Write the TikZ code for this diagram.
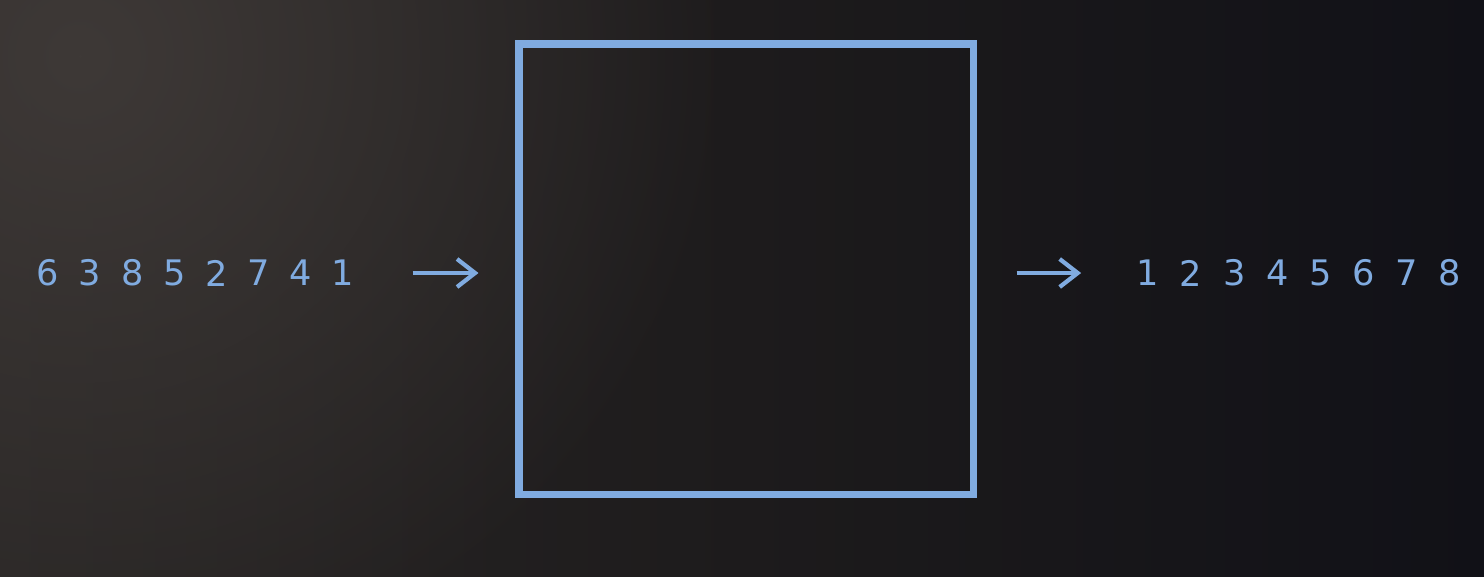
\documentclass[tikz,border=0pt]{standalone}
\usepackage{fontspec}
\setmainfont{DejaVu Sans}
\usetikzlibrary{arrows.meta,positioning,fadings}
\definecolor{lineblue}{HTML}{80ABE0}
\definecolor{bgglow}{HTML}{3E3937}
\definecolor{bgleft}{HTML}{2A2726}
\definecolor{bgmid}{HTML}{1D1B1C}
\definecolor{bgright}{HTML}{111117}
\tikzfading[name=glow, inner color=transparent!0, outer color=transparent!100]

\begin{document}
\begin{tikzpicture}[
  every node/.style={font=\fontsize{10}{12}\selectfont, text=lineblue},
  digit/.style={inner sep=0pt},
  sorter/.style={draw=lineblue, line width=2pt, minimum width=4.54cm, minimum height=4.50cm, inner sep=0pt},
  flow/.style={-{Straight Barb[length=1.8mm,width=2.8mm]}, draw=lineblue, line width=1.2pt}
]
% background
\shade[left color=bgleft, right color=bgright, middle color=bgmid] (0,0) rectangle (14.84,5.76);
\begin{scope}
  \clip (0,0) rectangle (14.84,5.76);
  \fill[bgglow, path fading=glow] (0.8,5.2) circle (6.5);
\end{scope}
\useasboundingbox (0,0) rectangle (14.84,5.76);

\node[sorter] (box) at (7.46,3.07) {};

% unsorted input
\foreach \d [count=\i] in {6,3,8,5,2,7,4,1}
  \node[digit] (in\i) at ({0.48+0.421*(\i-1)},3.03) {\d};
% sorted output
\foreach \d [count=\i] in {1,2,3,4,5,6,7,8}
  \node[digit] (out\i) at ({11.48+0.431*(\i-1)},3.03) {\d};

\draw[flow] ([xshift=5.8mm]in8.east) -- ([xshift=-3.7mm]box.west |- in8.east);
\draw[flow] ([xshift=4mm]box.east |- out1.west) -- ([xshift=-5.5mm]out1.west);
\end{tikzpicture}
\end{document}
